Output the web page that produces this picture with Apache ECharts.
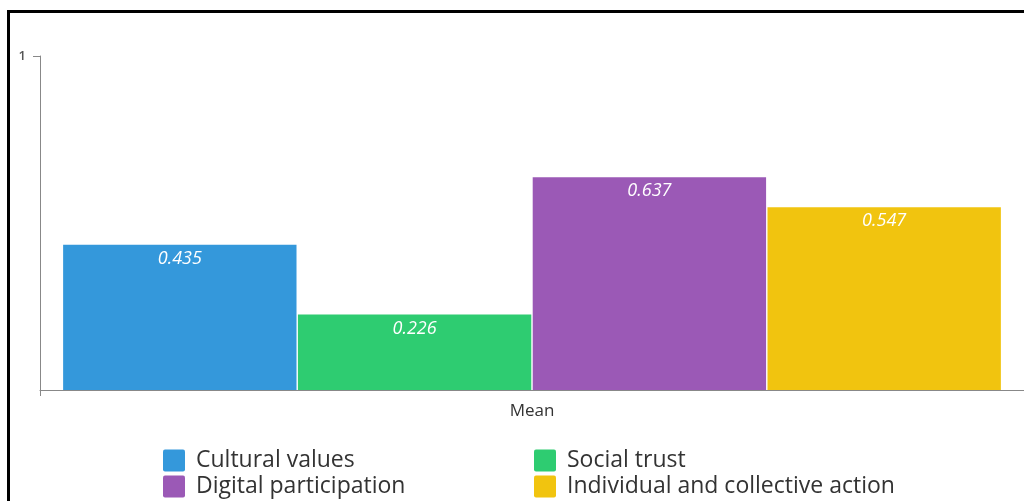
<!DOCTYPE html>
<html>
<head>
<meta charset="utf-8">
<script src="https://cdn.jsdelivr.net/npm/echarts@6/dist/echarts.min.js"></script>
<style>
  html, body { margin: 0; padding: 0; background: #fff; }
  #chart { width: 1024px; height: 501px; }
</style>
</head>
<body>
<div id="chart"></div>
<script>
// Category on the x axis
const categories = ['Mean'];
// One series per dimension, each with its mean score
const seriesNames = ['Cultural values', 'Social trust', 'Digital participation', 'Individual and collective action'];
const culturalValues = [0.435];
const socialTrust = [0.226];
const digitalParticipation = [0.637];
const collectiveAction = [0.547];
const seriesValues = [culturalValues, socialTrust, digitalParticipation, collectiveAction];
const seriesColors = ['#3498db', '#2ecc71', '#9b59b6', '#f1c40f'];

const font = '"Open Sans", "Noto Sans", sans-serif';

const chart = echarts.init(document.getElementById('chart'), null, { renderer: 'canvas' });

const series = seriesNames.map((name, i) => ({
  name: name,
  type: 'bar',
  data: seriesValues[i],
  barGap: '0.6%',
  barCategoryGap: '4.7%',
  itemStyle: { color: seriesColors[i] },
  label: {
    show: true,
    position: 'insideTop',
    distance: 5,
    color: '#fff',
    fontStyle: 'italic',
    fontFamily: font,
    fontSize: 18,
    formatter: p => p.value.toFixed(3)
  }
}));

// Square legend swatch with slightly rounded corners
const swatch = 'path://M2,0H20Q22,0 22,2V20Q22,22 20,22H2Q0,22 0,20V2Q0,0 2,0Z';

// Two-row legend columns
const legendBase = {
  orient: 'vertical',
  top: 449,
  height: 54,
  padding: 0,
  itemWidth: 22, itemHeight: 22, itemGap: 3,
  icon: swatch,
  textStyle: { fontFamily: font, fontSize: 23, color: '#333', lineHeight: 22, padding: [0, 0, 0, 6] },
  selectedMode: false
};

chart.setOption({
  animation: false,
  backgroundColor: '#fff',
  graphic: [{
    type: 'rect',
    shape: { x: 8.5, y: 11.5, width: 1200, height: 700 },
    style: { fill: 'none', stroke: '#000', lineWidth: 3 },
    z: 100
  }],
  grid: { left: 40, right: 0, top: 56, bottom: 111, containLabel: false },
  legend: [
    Object.assign({}, legendBase, { data: [seriesNames[0], seriesNames[2]], left: 163 }),
    Object.assign({}, legendBase, { data: [seriesNames[1], seriesNames[3]], left: 534 })
  ],
  xAxis: {
    type: 'category',
    data: categories,
    axisLine: { show: true, lineStyle: { color: '#888', width: 1 } },
    axisTick: { show: true, length: 6, lineStyle: { color: '#888' } },
    axisLabel: { fontFamily: font, fontSize: 17, color: '#333', margin: 13 }
  },
  yAxis: {
    type: 'value',
    min: 0, max: 1, interval: 1,
    axisLine: { show: true, lineStyle: { color: '#888', width: 1 } },
    axisTick: { show: true, length: 7, lineStyle: { color: '#888' } },
    splitLine: { show: false },
    axisLabel: {
      showMinLabel: false,
      fontFamily: font, fontSize: 13, fontWeight: 600, color: '#555', margin: 14
    }
  },
  series: series
});
</script>
</body>
</html>
